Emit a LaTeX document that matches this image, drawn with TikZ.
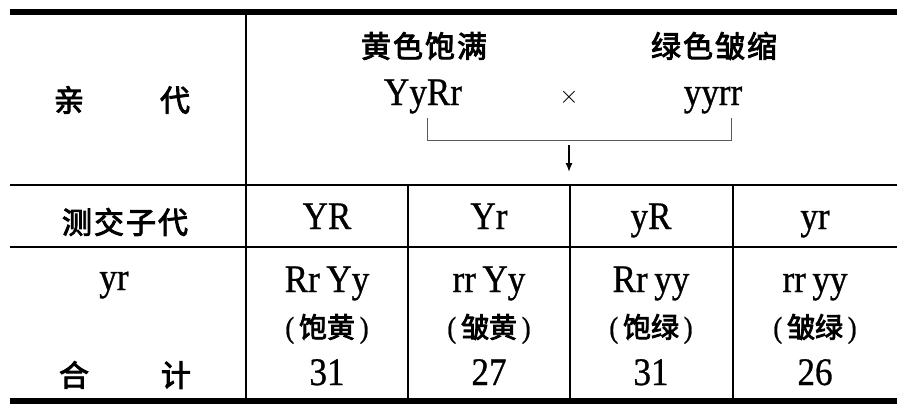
\documentclass[tikz,border=0pt]{standalone}
\usepackage{fontspec}
\usetikzlibrary{arrows.meta}
\setmainfont{Liberation Serif}
\newfontfamily\latin[FakeStretch=0.9, FakeBold=0.8]{Liberation Serif}
\newfontfamily\cjk[FakeBold=3]{Noto Sans CJK SC}
\tikzset{
  lat/.style={font=\latin\fontsize{39}{42}\selectfont, inner sep=0pt, anchor=base},
  zh/.style={font=\cjk\fontsize{30}{32}\selectfont, inner sep=0pt, anchor=center},
  zhsmall/.style={font=\cjk\fontsize{28}{32}\selectfont, inner sep=0pt, anchor=center},
  thickrule/.style={line width=5.5pt},
  rule/.style={line width=2.4pt},
}
\begin{document}
\begin{tikzpicture}[x=1pt,y=-1pt]
            \useasboundingbox (0,0) rectangle (899,408);
            % rules of the table
            \draw[thickrule] (10,12) -- (897,12);
            \draw[thickrule] (10,401) -- (897,401);
            \draw[rule] (10,185) -- (897,185);
            \draw[rule] (10,247) -- (897,247);
            \draw[rule] (246,12) -- (246,401);
            \foreach \x in {408,570,733}
                \draw[rule] (\x,185) -- (\x,401);
            % parents
            \node[zh] at (122,100) (parent) {亲\hspace{76pt}代};
            \node[zh] at (424,46) (yellow) {黄\hspace{2pt}色\hspace{2pt}饱\hspace{2pt}满};
            \node[zh] at (714,46) (green) {绿\hspace{2pt}色\hspace{2pt}皱\hspace{2pt}缩};
            \node[lat] at (423,105) (pa) {YyRr};
            \node[font=\fontsize{28}{30}\selectfont, anchor=center] at (569,97) (cross) {$\times$};
            \node[lat] at (713,105) (pb) {yyrr};
            \coordinate (pal) at (427,118);
            \coordinate (pbr) at (731,118);
            \coordinate (join) at (569,145);
            \coordinate (down) at (569,172);
            \draw[line width=0.9pt, black!65] (pal) -- ++(0,22) -| (pbr);
            \draw[-{Latex[length=9pt,width=7pt]}, line width=1.4pt] (join) -- (down);
            % testcross
            \node[zh] at (125,222) (testcross) {测\hspace{2pt}交\hspace{2pt}子\hspace{2pt}代};
            \node[lat] at (114,290) (tester) {yr};
            \node[zh] at (125,375) (total) {合\hspace{72pt}计};
            \foreach \x/\g/\z/\t/\n [count=\i] in {327/YR/Rr\,Yy/饱黄/31, 489/Yr/rr\,Yy/皱黄/27, 651/yR/Rr\,yy/饱绿/31, 815/yr/rr\,yy/皱绿/26}{
                \node[lat] at (\x,229) (gam\i) {\g};
                \node[lat] at (\x,292) (geno\i) {\z};
                \node[zhsmall] at (\x,329) (pheno\i) {{\latin\fontsize{30}{32}\selectfont(}\,\t\,{\latin\fontsize{30}{32}\selectfont)}};
                \node[lat] at (\x,385) (num\i) {\n};
            }
        \end{tikzpicture}
\end{document}
